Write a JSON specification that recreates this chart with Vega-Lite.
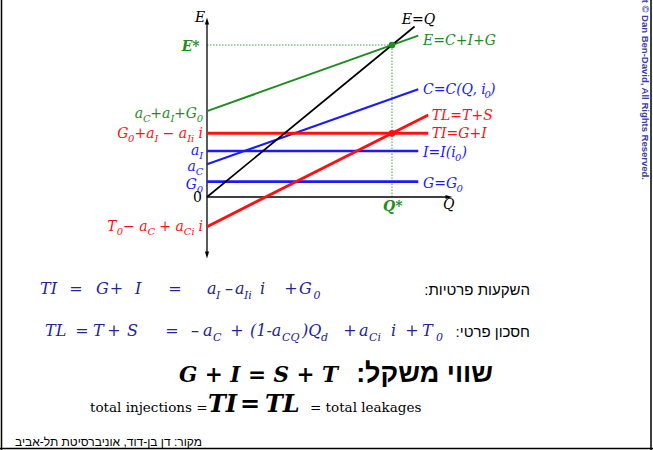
{
  "$schema": "https://vega.github.io/schema/vega-lite/v6.json",
  "width": 653,
  "height": 450,
  "autosize": {"type": "none"},
  "padding": 0,
  "background": "white",
  "config": {"view": {"stroke": null}},
  "datasets": {
    "lines": [
      {"series": "axes", "Q": 0, "E": -38.16, "Q2": 0, "E2": 115.79},
      {"series": "axes", "Q": 0, "E": 0, "Q2": 130.81, "E2": 0},
      {"series": "E=C+I+G", "Q": 0, "E": 56.5, "Q2": 114.2, "E2": 106.2},
      {"series": "C", "Q": 0, "E": 21.5, "Q2": 114.2, "E2": 70.9},
      {"series": "I", "Q": 0, "E": 30.3, "Q2": 114.2, "E2": 30.3},
      {"series": "G", "Q": 0, "E": 10.1, "Q2": 114.2, "E2": 10.1},
      {"series": "TL", "Q": 0, "E": -19.5, "Q2": 119.6, "E2": 54.0},
      {"series": "TI", "Q": 0, "E": 41.9, "Q2": 119.6, "E2": 41.9},
      {"series": "E=Q", "Q": 0, "E": 0, "Q2": 112.2, "E2": 112.2},
      {"series": "frame", "Q": -111.08, "E": -166.45, "Q2": -111.08, "E2": 129.61},
      {"series": "frame", "Q": 240.0, "E": -166.45, "Q2": 240.0, "E2": 129.61},
      {"series": "frame", "Q": -111.89, "E": -165.46, "Q2": 241.08, "E2": -165.46}
    ],
    "guides": [
      {"Q": 0, "E": 100, "Q2": 100, "E2": 100},
      {"Q": 100, "E": 0, "Q2": 100, "E2": 100}
    ],
    "heads": [
      {"axisEnd": "top", "Q": 0, "E": 115.79},
      {"axisEnd": "bottom", "Q": 0, "E": -38.16},
      {"axisEnd": "right", "Q": 130.81, "E": 0}
    ],
    "dots": [
      {"series": "equilibrium", "Q": 100, "E": 100},
      {"series": "TI", "Q": 100, "E": 41.9}
    ],
    "chartLabels": [
      {"text": "E=Q", "Q": 105.24, "E": 113.82, "series": "E=Q"},
      {"text": "E=C+I+G", "Q": 116.76, "E": 100.0, "series": "E=C+I+G"},
      {"text": "C=C(Q, i", "Q": 116.76, "E": 67.76, "series": "C"},
      {"text": ")", "Q": 152.97, "E": 67.76, "series": "C"},
      {"text": "TL=T+S", "Q": 121.46, "E": 50.66, "series": "TL"},
      {"text": "TI=G+I", "Q": 121.46, "E": 39.14, "series": "TI"},
      {"text": "I=I(i", "Q": 116.76, "E": 26.64, "series": "I"},
      {"text": ")", "Q": 137.51, "E": 26.64, "series": "I"},
      {"text": "G=G", "Q": 116.76, "E": 5.92, "series": "G"},
      {"text": "E", "Q": -6.49, "E": 115.46, "series": "axes"},
      {"text": "Q", "Q": 127.57, "E": -7.89, "series": "axes"},
      {"text": "a", "Q": -39.03, "E": 51.97, "series": "E=C+I+G"},
      {"text": "+a", "Q": -30.65, "E": 51.97, "series": "E=C+I+G"},
      {"text": "+G", "Q": -17.78, "E": 51.97, "series": "E=C+I+G"},
      {"text": "G", "Q": -48.54, "E": 39.14, "series": "TI"},
      {"text": "+a", "Q": -39.24, "E": 39.14, "series": "TI"},
      {"text": "− a", "Q": -23.97, "E": 39.14, "series": "TI"},
      {"text": "i", "Q": -4.58, "E": 39.14, "series": "TI"},
      {"text": "a", "Q": -8.68, "E": 27.63, "series": "I"},
      {"text": "a", "Q": -10.54, "E": 17.11, "series": "C"},
      {"text": "G", "Q": -11.46, "E": 5.26, "series": "G"},
      {"text": "T", "Q": -53.95, "E": -22.37, "series": "TL"},
      {"text": "− a", "Q": -45.35, "E": -22.37, "series": "TL"},
      {"text": "+ a", "Q": -25.83, "E": -22.37, "series": "TL"},
      {"text": "i", "Q": -4.58, "E": -22.37, "series": "TL"}
    ],
    "chartSubs": [
      {"text": "0", "Q": 150.05, "E": 67.76, "series": "C"},
      {"text": "0", "Q": 134.11, "E": 26.64, "series": "I"},
      {"text": "0", "Q": 134.81, "E": 5.92, "series": "G"},
      {"text": "C", "Q": -34.54, "E": 51.97, "series": "E=C+I+G"},
      {"text": "I", "Q": -19.78, "E": 51.97, "series": "E=C+I+G"},
      {"text": "0", "Q": -5.57, "E": 51.97, "series": "E=C+I+G"},
      {"text": "0", "Q": -42.68, "E": 39.14, "series": "TI"},
      {"text": "I", "Q": -28.39, "E": 39.14, "series": "TI"},
      {"text": "Ii", "Q": -10.72, "E": 39.14, "series": "TI"},
      {"text": "I", "Q": -4.17, "E": 27.63, "series": "I"},
      {"text": "C", "Q": -6.03, "E": 17.11, "series": "C"},
      {"text": "0", "Q": -5.6, "E": 5.26, "series": "G"},
      {"text": "0", "Q": -48.79, "E": -22.37, "series": "TL"},
      {"text": "C", "Q": -32.1, "E": -22.37, "series": "TL"},
      {"text": "Ci", "Q": -12.57, "E": -22.37, "series": "TL"}
    ],
    "starLabels": [
      {"text": "E*", "Q": -13.68, "E": 96.05, "series": "equilibrium"},
      {"text": "Q*", "Q": 95.14, "E": -9.21, "series": "equilibrium"}
    ],
    "origin": [
      {"text": "0", "Q": -7.51, "E": -3.29, "series": "axes"}
    ],
    "eqMain": [
      {"text": "TI", "Q": -90.27, "E": -63.82},
      {"text": "=", "Q": -74.43, "E": -63.82},
      {"text": "G", "Q": -60.0, "E": -63.82},
      {"text": "+", "Q": -52.54, "E": -63.82},
      {"text": "I", "Q": -38.92, "E": -63.82},
      {"text": "=", "Q": -20.92, "E": -63.82},
      {"text": "a", "Q": 0, "E": -63.82},
      {"text": "–", "Q": 9.73, "E": -63.82},
      {"text": "a", "Q": 15.14, "E": -63.82},
      {"text": "i", "Q": 28.65, "E": -63.82},
      {"text": "+", "Q": 41.78, "E": -63.82},
      {"text": "G", "Q": 49.73, "E": -63.82},
      {"text": "TL", "Q": -87.57, "E": -91.45},
      {"text": "=", "Q": -71.19, "E": -91.45},
      {"text": "T", "Q": -61.62, "E": -91.45},
      {"text": "+", "Q": -53.89, "E": -91.45},
      {"text": "S", "Q": -43.24, "E": -91.45},
      {"text": "=", "Q": -22.54, "E": -91.45},
      {"text": "–", "Q": -8.65, "E": -91.45},
      {"text": "a", "Q": -2.16, "E": -91.45},
      {"text": "+", "Q": 12.59, "E": -91.45},
      {"text": "(1-a", "Q": 23.24, "E": -91.45},
      {"text": ")Q", "Q": 51.35, "E": -91.45},
      {"text": "+", "Q": 73.68, "E": -91.45},
      {"text": "a", "Q": 82.16, "E": -91.45},
      {"text": "i", "Q": 99.46, "E": -91.45},
      {"text": "+", "Q": 107.19, "E": -91.45},
      {"text": "T", "Q": 116.22, "E": -91.45}
    ],
    "eqSub": [
      {"text": "I", "Q": 4.86, "E": -63.82},
      {"text": "Ii", "Q": 20.0, "E": -63.82},
      {"text": "0", "Q": 57.57, "E": -63.82},
      {"text": "C", "Q": 3.24, "E": -91.45},
      {"text": "CQ", "Q": 40.54, "E": -91.45},
      {"text": "d", "Q": 61.62, "E": -91.45},
      {"text": "Ci", "Q": 87.57, "E": -91.45},
      {"text": "0", "Q": 123.78, "E": -91.45}
    ],
    "hebrewLabels": [
      {"text": "השקעות פרטיות:‏", "Q": 174.59, "E": -64.47},
      {"text": "חסכון פרטי:‏", "Q": 174.59, "E": -92.11}
    ],
    "balance": [
      {"text": "G + I = S + T", "Q": -15.14, "E": -121.71}
    ],
    "balanceHeb": [
      {"text": "שווי משקל:‏", "Q": 154.59, "E": -121.71}
    ],
    "totalText": [
      {"text": "total injections =", "Q": -63.24, "E": -141.45},
      {"text": "= total leakages", "Q": 55.68, "E": -141.45}
    ],
    "totalBig": [
      {"text": "TI", "Q": 0.54, "E": -141.45},
      {"text": "=", "Q": 17.84, "E": -141.45},
      {"text": "TL", "Q": 31.35, "E": -141.45}
    ],
    "footer": [
      {"text": "מקור: דן בן-דוד, אוניברסיטת תל-אביב", "Q": -2.7, "E": -163.82}
    ],
    "credit": [
      {"text": "Copyright © Dan Ben-David, All Rights Reserved.", "Q": 236.76, "E": 11.18}
    ]
  },
  "encoding": {
    "x": {"field": "Q", "type": "quantitative", "scale": {"domain": [-111.89, 241.08], "nice": false, "zero": false}, "axis": null},
    "y": {"field": "E", "type": "quantitative", "scale": {"domain": [-166.45, 129.61], "nice": false, "zero": false}, "axis": null}
  },
  "layer": [
    {
      "data": {"name": "guides"},
      "mark": {"type": "rule", "color": "#3da83d", "strokeWidth": 1, "strokeDash": [1.5, 1.5]},
      "encoding": {"x2": {"field": "Q2"}, "y2": {"field": "E2"}}
    },
    {
      "data": {"name": "lines"},
      "mark": {"type": "rule", "strokeCap": "butt"},
      "encoding": {
        "x2": {"field": "Q2"},
        "y2": {"field": "E2"},
        "color": {"field": "series", "type": "nominal", "legend": null,
          "scale": {"domain": ["axes", "frame", "E=Q", "E=C+I+G", "equilibrium", "C", "I", "G", "TL", "TI"],
                    "range": ["#000000", "#000000", "#000000", "#1e8c1e", "#1e8c1e", "#1a1aff", "#1a1aff", "#1a1aff", "#ff1010", "#ff1010"]}},
        "strokeWidth": {"field": "series", "type": "ordinal", "legend": null,
          "scale": {"domain": ["axes", "frame", "E=Q", "E=C+I+G", "C", "I", "G", "TL", "TI"],
                    "range": [1.3, 3, 1.6, 2, 2, 2, 2, 3, 3]}}
      }
    },
    {
      "data": {"name": "heads"},
      "mark": {"type": "point", "filled": true, "color": "#000000", "opacity": 1, "size": 49, "strokeWidth": 0},
      "encoding": {
        "shape": {"field": "axisEnd", "type": "nominal", "legend": null,
          "scale": {"domain": ["top", "bottom", "right"],
                    "range": ["M0,-1L0.6,1L-0.6,1Z", "M0,1L0.6,-1L-0.6,-1Z", "M1,0L-1,0.6L-1,-0.6Z"]}}
      }
    },
    {
      "data": {"name": "dots"},
      "mark": {"type": "point", "filled": true, "opacity": 1, "size": 45, "shape": "circle", "strokeWidth": 0},
      "encoding": {
        "color": {"field": "series", "type": "nominal", "legend": null}
      }
    },
    {
      "data": {"name": "chartLabels"},
      "mark": {"type": "text", "align": "left", "baseline": "alphabetic", "font": "DejaVu Serif", "fontStyle": "italic", "fontSize": 14},
      "encoding": {"text": {"field": "text"}, "color": {"field": "series", "type": "nominal", "legend": null}}
    },
    {
      "data": {"name": "chartSubs"},
      "mark": {"type": "text", "align": "left", "baseline": "alphabetic", "font": "DejaVu Serif", "fontStyle": "italic", "fontSize": 10, "dy": 4},
      "encoding": {"text": {"field": "text"}, "color": {"field": "series", "type": "nominal", "legend": null}}
    },
    {
      "data": {"name": "starLabels"},
      "mark": {"type": "text", "align": "left", "baseline": "alphabetic", "font": "DejaVu Serif", "fontStyle": "italic", "fontWeight": "bold", "fontSize": 14},
      "encoding": {"text": {"field": "text"}, "color": {"field": "series", "type": "nominal", "legend": null}}
    },
    {
      "data": {"name": "origin"},
      "mark": {"type": "text", "align": "left", "baseline": "alphabetic", "font": "DejaVu Serif", "fontSize": 14},
      "encoding": {"text": {"field": "text"}, "color": {"field": "series", "type": "nominal", "legend": null}}
    },
    {
      "data": {"name": "eqMain"},
      "mark": {"type": "text", "align": "left", "baseline": "alphabetic", "font": "DejaVu Serif", "fontStyle": "italic", "fontSize": 16, "color": "#23239c"},
      "encoding": {"text": {"field": "text"}}
    },
    {
      "data": {"name": "eqSub"},
      "mark": {"type": "text", "align": "left", "baseline": "alphabetic", "font": "DejaVu Serif", "fontStyle": "italic", "fontSize": 11, "dy": 5, "color": "#23239c"},
      "encoding": {"text": {"field": "text"}}
    },
    {
      "data": {"name": "hebrewLabels"},
      "mark": {"type": "text", "align": "right", "baseline": "alphabetic", "font": "Liberation Sans", "fontSize": 15, "color": "#000000"},
      "encoding": {"text": {"field": "text"}}
    },
    {
      "data": {"name": "balance"},
      "mark": {"type": "text", "align": "left", "baseline": "alphabetic", "font": "DejaVu Serif", "fontStyle": "italic", "fontWeight": "bold", "fontSize": 21.5, "color": "#000000"},
      "encoding": {"text": {"field": "text"}}
    },
    {
      "data": {"name": "balanceHeb"},
      "mark": {"type": "text", "align": "right", "baseline": "alphabetic", "font": "Liberation Sans", "fontWeight": "bold", "fontSize": 27, "color": "#000000"},
      "encoding": {"text": {"field": "text"}}
    },
    {
      "data": {"name": "totalText"},
      "mark": {"type": "text", "align": "left", "baseline": "alphabetic", "font": "DejaVu Serif", "fontSize": 13.5, "color": "#000000"},
      "encoding": {"text": {"field": "text"}}
    },
    {
      "data": {"name": "totalBig"},
      "mark": {"type": "text", "align": "left", "baseline": "alphabetic", "font": "DejaVu Serif", "fontStyle": "italic", "fontWeight": "bold", "fontSize": 24, "color": "#000000"},
      "encoding": {"text": {"field": "text"}}
    },
    {
      "data": {"name": "footer"},
      "mark": {"type": "text", "align": "right", "baseline": "alphabetic", "font": "Liberation Sans", "fontSize": 12, "color": "#000000"},
      "encoding": {"text": {"field": "text"}}
    },
    {
      "data": {"name": "credit"},
      "mark": {"type": "text", "align": "right", "baseline": "middle", "angle": 90, "font": "Liberation Sans", "fontWeight": "bold", "fontSize": 9.5, "color": "#3c3cab"},
      "encoding": {"text": {"field": "text"}}
    }
  ]
}
